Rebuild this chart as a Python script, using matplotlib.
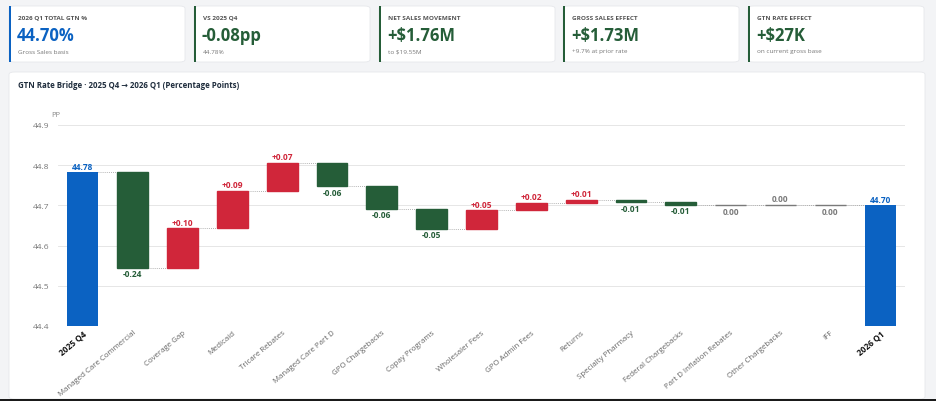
import numpy as np
import matplotlib.pyplot as plt
from matplotlib.patches import FancyBboxPatch, Rectangle

plt.rcParams['font.family'] = ['Open Sans', 'DejaVu Sans']

# ---- data ----
start_label = "2025 Q4"
end_label = "2026 Q1"
start_value = 44.782
categories = ["Managed Care Commercial", "Coverage Gap", "Medicaid", "Tricare Rebates",
              "Managed Care Part D", "GPO Chargebacks", "Copay Programs", "Wholesaler Fees",
              "GPO Admin Fees", "Returns", "Specialty Pharmacy", "Federal Chargebacks",
              "Part D Inflation Rebates", "Other Chargebacks", "IFF"]
deltas = [-0.237, 0.098, 0.094, 0.069, -0.058, -0.056, -0.050, 0.046,
          0.018, 0.008, -0.006, -0.006, -0.002, 0.001, -0.001]

kpi_titles = ["2026 Q1 TOTAL GTN %", "VS 2025 Q4", "NET SALES MOVEMENT",
              "GROSS SALES EFFECT", "GTN RATE EFFECT"]
kpi_values = ["44.70%", "-0.08pp", "+$1.76M", "+$1.73M", "+$27K"]
kpi_subs = ["Gross Sales basis", "44.78%", "to $19.55M", "+9.7% at prior rate",
            "on current gross base"]

chart_title = "GTN Rate Bridge \u00b7 2025 Q4 \u2192 2026 Q1 (Percentage Points)"
y_ticks = [44.4, 44.5, 44.6, 44.7, 44.8, 44.9]

BLUE = "#0b62c2"
GREEN = "#255d38"
RED = "#d0263a"
GRAY = "#7a7a7a"

W, H = 936, 402
fig = plt.figure(figsize=(W / 100, H / 100), dpi=100)
fig.patch.set_facecolor("#f3f4f6")


def px(x, y):
    # pixel (from top-left) -> figure fraction
    return x / W, 1 - y / H


def card(x0, y0, x1, y1, accent=None):
    fx, fy = px(x0, y1)
    box = FancyBboxPatch((fx, fy), (x1 - x0) / W, (y1 - y0) / H,
                         boxstyle="round,pad=0,rounding_size=0.006",
                         transform=fig.transFigure, facecolor="white",
                         edgecolor="#e6e8eb", linewidth=0.6, zorder=-2)
    fig.patches.append(box)
    if accent:
        fig.patches.append(Rectangle((fx, fy), 2 / W, (y1 - y0) / H,
                                     transform=fig.transFigure, facecolor=accent,
                                     edgecolor="none", zorder=-1))


# ---- KPI cards ----
card_x = [9, 194, 379, 563, 748]
card_w = 176
for i, (t, v, s) in enumerate(zip(kpi_titles, kpi_values, kpi_subs)):
    x0 = card_x[i]
    col = BLUE if i == 0 else GREEN
    card(x0, 7, x0 + card_w, 63, accent=col)
    fig.text(*px(x0 + 9, 18), t, fontsize=4.6, color="#555555", fontweight="bold",
             va="center", ha="left")
    fig.text(*px(x0 + 8, 36), v, fontsize=12, color=col, fontweight="bold",
             va="center", ha="left")
    fig.text(*px(x0 + 9, 52), s, fontsize=4.6, color="#777777", va="center", ha="left")

# ---- chart panel ----
card(9, 73, 925, 400)
fig.text(*px(18, 86), chart_title, fontsize=5.7, color="#1f2d3d", fontweight="bold",
         va="center", ha="left")

ax = fig.add_axes([58 / W, (H - 327) / H, 847 / W, 201 / H])
ax.set_facecolor("none")
ax.set_zorder(3)

labels = [start_label] + categories + [end_label]
n = len(labels)
x = np.arange(n)
end_value = start_value + sum(deltas)
cum = start_value + np.concatenate([[0], np.cumsum(deltas)])
bw = 0.62
base_y = 44.4

# start / end bars
ax.bar(0, start_value - base_y, bottom=base_y, width=bw, color=BLUE, zorder=3)
ax.bar(n - 1, end_value - base_y, bottom=base_y, width=bw, color=BLUE, zorder=3)
ax.text(0, start_value + 0.004, f"{start_value:.2f}", ha="center", va="bottom",
        fontsize=6, color=BLUE, fontweight="bold")
ax.text(n - 1, end_value + 0.004, f"{end_value:.2f}", ha="center", va="bottom",
        fontsize=6, color=BLUE, fontweight="bold")

for i, d in enumerate(deltas):
    xi = i + 1
    prev = cum[i]
    r = round(d, 2)
    if r == 0:
        col = GRAY
        txt = "0.00"
    elif d > 0:
        col = RED
        txt = f"+{d:.2f}"
    else:
        col = GREEN
        txt = f"{d:.2f}"
    ax.bar(xi, d, bottom=prev, width=bw, color=col, edgecolor=col, linewidth=1.0,
           zorder=3)
    top = max(prev, prev + d)
    bot = min(prev, prev + d)
    if d > 0:
        ax.text(xi, top + 0.004, txt, ha="center", va="bottom", fontsize=6,
                color=col, fontweight="bold")
    else:
        ax.text(xi, bot - 0.004, txt, ha="center", va="top", fontsize=6,
                color=col, fontweight="bold")

# connectors
for i in range(n - 1):
    level = cum[i] if i < len(cum) else end_value
    ax.plot([i + bw / 2, i + 1 - bw / 2], [level, level], ls=(0, (1, 1.5)),
            color="#9a9a9a", lw=0.6, zorder=2)

ax.set_xlim(-0.5, n - 0.5)
ax.set_ylim(44.4, 44.9)
ax.set_yticks(y_ticks)
ax.set_yticklabels([f"{t:.1f}" for t in y_ticks], fontsize=6, color="#777777")
ax.yaxis.grid(True, color="#e6e6e6", lw=0.7, zorder=0)
ax.tick_params(axis="y", length=0, pad=6)
ax.tick_params(axis="x", length=0, pad=2)
for s in ax.spines.values():
    s.set_visible(False)
ax.axhline(44.4, color="#dddddd", lw=0.7, zorder=1)

ax.set_xticks(x)
ax.set_xticklabels(labels, rotation=40, ha="right", rotation_mode="anchor",
                   fontsize=5.7, color="#666666")
for j in (0, n - 1):
    tl = ax.get_xticklabels()[j]
    tl.set_fontweight("bold")
    tl.set_color("#111111")
    tl.set_fontsize(6)

ax.text(-0.008, 1.035, "PP", transform=ax.transAxes, fontsize=5.5, color="#888888",
        ha="left", va="bottom")

# dark strip at bottom edge
fig.patches.append(Rectangle((0, 0), 1, 2 / H, transform=fig.transFigure,
                             facecolor="#1a1a1a", edgecolor="none", zorder=5))

fig.savefig("out.png", dpi=100, facecolor=fig.get_facecolor())
